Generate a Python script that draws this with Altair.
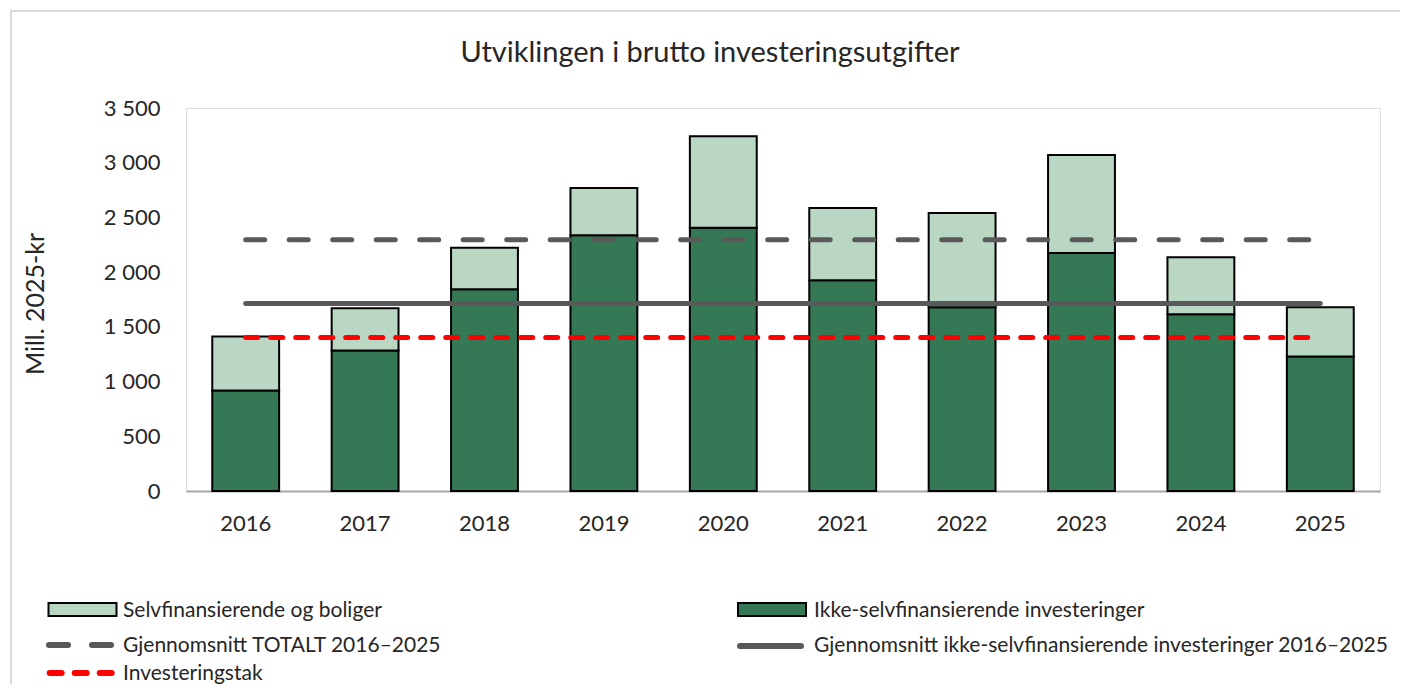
import altair as alt
import pandas as pd

# ---- data ----
years = ["2016", "2017", "2018", "2019", "2020", "2021", "2022", "2023", "2024", "2025"]
ikke_selvfin = [919, 1284, 1844, 2337, 2405, 1926, 1680, 2176, 1616, 1230]
selvfin_boliger = [493, 387, 378, 433, 836, 661, 861, 895, 520, 450]
snitt_totalt = 2295
snitt_ikke = 1714
investeringstak = 1403

title_text = "Utviklingen i brutto investeringsutgifter"
y_title = "Mill. 2025-kr"
legend_labels = [
    "Selvfinansierende og boliger",
    "Ikke-selvfinansierende investeringer",
    "Gjennomsnitt TOTALT 2016–2025",
    "Gjennomsnitt ikke-selvfinansierende investeringer 2016–2025",
    "Investeringstak",
]

DARK = "#357855"
LIGHT = "#bad7c4"
GREY = "#595959"
RED = "#ff0000"
TXT = "#262626"
FONT = "Lato"

W, H = 1194, 383

bars = pd.DataFrame({"year": years, "ikke": ikke_selvfin, "selv": selvfin_boliger})
bars["total"] = bars["ikke"] + bars["selv"]
lines = pd.DataFrame({
    "year": years,
    "snitt_totalt": [snitt_totalt] * len(years),
    "snitt_ikke": [snitt_ikke] * len(years),
    "tak": [investeringstak] * len(years),
})
one = pd.DataFrame({"t": [title_text]})

xenc = alt.X("year:N", sort=years,
             scale=alt.Scale(paddingInner=0.44, paddingOuter=0.22),
             axis=alt.Axis(title=None, labelAngle=0, ticks=False, tickSize=0,
                           labelPadding=32, labelBaseline="middle",
                           domainColor="#a6a6a6", domainWidth=2,
                           labelFontSize=22, labelColor=TXT, labelFont=FONT))
yscale = alt.Scale(domain=[0, 3500], nice=False)
yaxis = alt.Axis(title=y_title, values=list(range(0, 3501, 500)),
                 labelExpr="replace(format(datum.value, ',d'), ',', ' ')",
                 domain=False, ticks=False, tickSize=0, grid=False,
                 labelPadding=26, labelFontSize=22, labelColor=TXT, labelFont=FONT,
                 titleFontSize=25, titleFont=FONT, titleColor=TXT, titleFontWeight="normal",
                 titleX=-151, titleY=H / 2 + 4, titleAngle=270,
                 titleAlign="center", titleBaseline="middle")

# light grey frame (left and top edges visible in the reference)
frame_left = alt.Chart(one).mark_rule(color="#d9d9d9", strokeWidth=2).encode(
    x=alt.value(-175), y=alt.value(-97), y2=alt.value(600))
frame_top = alt.Chart(one).mark_rule(color="#d9d9d9", strokeWidth=2).encode(
    x=alt.value(-176), x2=alt.value(1220), y=alt.value(-97))

dark = alt.Chart(bars).mark_bar(color=DARK, stroke="black", strokeWidth=2).encode(
    x=xenc, y=alt.Y("ikke:Q", scale=yscale, axis=yaxis))
light = alt.Chart(bars).mark_bar(color=LIGHT, stroke="black", strokeWidth=2).encode(
    x=alt.X("year:N", sort=years), y=alt.Y("ikke:Q"), y2="total:Q")

l_tot = alt.Chart(lines).mark_line(color=GREY, strokeWidth=5, strokeDash=[19, 24.5], strokeCap="round").encode(
    x=alt.X("year:N", sort=years), y="snitt_totalt:Q")
l_ikke = alt.Chart(lines).mark_line(color=GREY, strokeWidth=5, strokeCap="round").encode(
    x=alt.X("year:N", sort=years), y="snitt_ikke:Q")
l_tak = alt.Chart(lines).mark_line(color=RED, strokeWidth=5, strokeDash=[12, 13], strokeCap="round").encode(
    x=alt.X("year:N", sort=years), y="tak:Q")

title = alt.Chart(one).mark_text(font=FONT, fontSize=29, color=TXT, align="center", baseline="middle").encode(
    x=alt.value(524), y=alt.value(-55), text="t:N")

# ---- legend (manual, two columns) ----
def leg_text(label, x, y):
    return alt.Chart(pd.DataFrame({"t": [label]})).mark_text(
        font=FONT, fontSize=21, color=TXT, align="left", baseline="alphabetic").encode(
        x=alt.value(x), y=alt.value(y), text="t:N")

def leg_rect(color, x, y):
    return alt.Chart(one).mark_rect(color=color, stroke="black", strokeWidth=2).encode(
        x=alt.value(x), x2=alt.value(x + 68), y=alt.value(y - 6.5), y2=alt.value(y + 6.5))

def leg_line(color, x1, x2, y, dash=None):
    kw = dict(color=color, strokeWidth=6, strokeCap="round")
    if dash:
        kw["strokeDash"] = dash
    return alt.Chart(one).mark_rule(**kw).encode(
        x=alt.value(x1), x2=alt.value(x2), y=alt.value(y))

legend = [
    leg_rect(LIGHT, -137.5, 501.5), leg_text(legend_labels[0], -63, 509),
    leg_rect(DARK, 552, 501.5), leg_text(legend_labels[1], 628, 509),
    leg_line(GREY, -137, -75, 537, [19, 24]), leg_text(legend_labels[2], -63, 544),
    leg_line(GREY, 554, 615, 538), leg_text(legend_labels[3], 628, 544),
    leg_line(RED, -136.3, -74.3, 565, [12, 13]), leg_text(legend_labels[4], -63, 572),
]

chart = alt.layer(frame_left, frame_top, dark, light, l_tot, l_ikke, l_tak, title, *legend).properties(
    width=W, height=H,
    autosize=alt.AutoSizeParams(type="none"),
    padding={"left": 178, "top": 100, "right": 20, "bottom": 193},
).configure_view(stroke=None).configure(background="white")

chart.save("out.html", embed_options={"renderer": "svg", "actions": False})
